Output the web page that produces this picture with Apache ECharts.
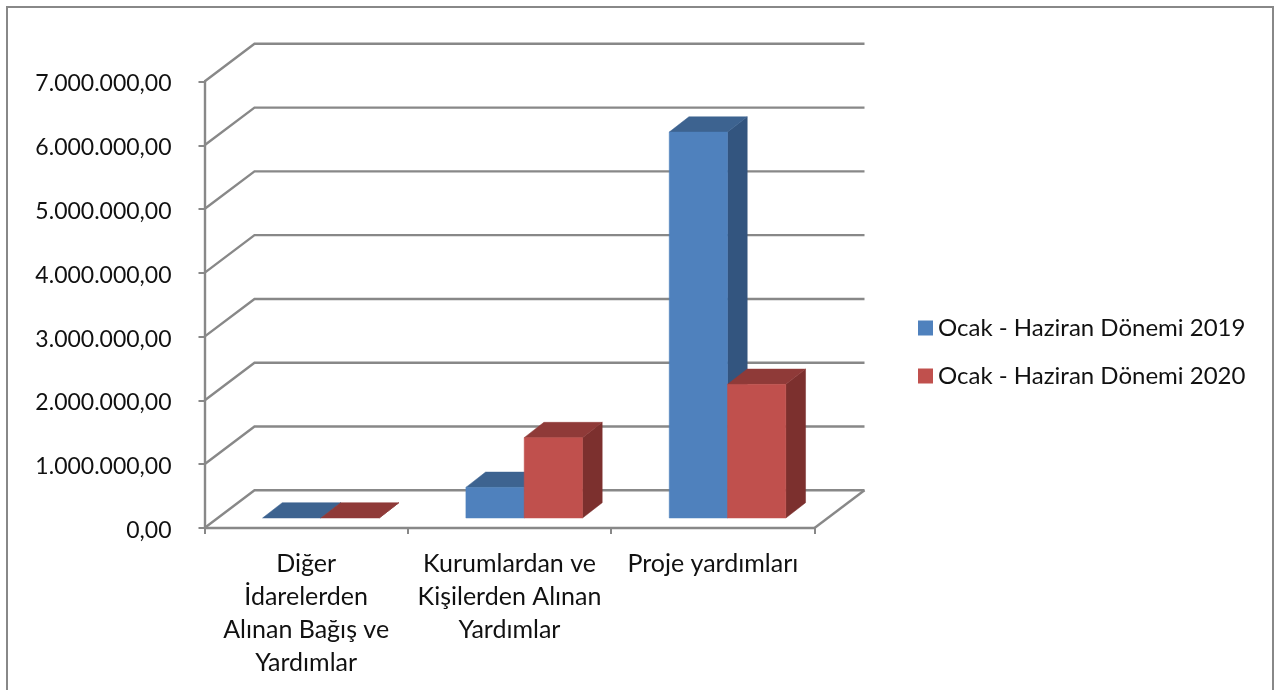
<!DOCTYPE html>
<html>
<head>
<meta charset="utf-8">
<script src="https://cdn.jsdelivr.net/npm/echarts@6/dist/echarts.min.js"></script>
<style>
  html, body { margin: 0; padding: 0; background: #fff; }
  #chart { width: 1288px; height: 690px; }
</style>
</head>
<body>
<div id="chart"></div>
<script>
const categories = ['Diğer\nİdarelerden\nAlınan Bağış ve\nYardımlar', 'Kurumlardan ve\nKişilerden Alınan\nYardımlar', 'Proje yardımları']
const series2019 = [0, 480000, 6050000]
const series2020 = [0, 1260000, 2095000]
const yTicks = [0, 1000000, 2000000, 3000000, 4000000, 5000000, 6000000, 7000000]

const FONT = 'Lato'
const AXIS_COLOR = '#888888'
const TEXT_COLOR = '#111111'

// fake 3d: wall depth, bar offset from the front of the floor, bar depth
const WALL_DX = 50, WALL_DY = -37.7
const BAR_DX = 14.7, BAR_DY = -10
const DEPTH_DX = 19.7, DEPTH_DY = -15.3
const BAR_W = 58.3

const formatTick = (v) => {
  const s = String(v).replace(/\B(?=(\d{3})+$)/g, '.')
  return s + ',00'
}

const poly = (points, fill) => ({
  type: 'polygon',
  shape: { points },
  style: { fill, stroke: fill, lineWidth: 0.5 },
})

// draws one bar, dir is -1 for the left bar of a pair and 0 for the right one
const barRenderer = (dir, front, top, side) => (params, api) => {
  const p = api.coord([api.value(0), api.value(1)])
  const base = api.coord([api.value(0), 0])
  const x0 = p[0] + BAR_DX + dir * BAR_W
  const x1 = x0 + BAR_W
  const yTop = p[1] + BAR_DY
  const yBase = base[1] + BAR_DY
  const children = [
    poly([[x1, yBase], [x1 + DEPTH_DX, yBase + DEPTH_DY], [x1 + DEPTH_DX, yTop + DEPTH_DY], [x1, yTop]], side),
    poly([[x0, yTop], [x0 + DEPTH_DX, yTop + DEPTH_DY], [x1 + DEPTH_DX, yTop + DEPTH_DY], [x1, yTop]], top),
  ]
  if (yBase - yTop > 0.5) {
    children.push(poly([[x0, yBase], [x1, yBase], [x1, yTop], [x0, yTop]], front))
  }
  return { type: 'group', children }
}

const wallRenderer = (params, api) => {
  const { x, width } = params.coordSys
  const y = api.coord([0, api.value(0)])[1]
  const lineStyle = { stroke: AXIS_COLOR, lineWidth: 2.4, fill: null }
  const children = [{
    type: 'polyline',
    shape: { points: [[x, y], [x + WALL_DX, y + WALL_DY], [x + width + WALL_DX, y + WALL_DY]] },
    style: lineStyle,
  }]
  if (api.value(0) === 0) {
    children.push({
      type: 'line',
      shape: { x1: x + width, y1: y, x2: x + width + WALL_DX, y2: y + WALL_DY },
      style: lineStyle,
    })
  }
  return { type: 'group', children }
}

const chart = echarts.init(document.getElementById('chart'))
chart.setOption({
  animation: false,
  textStyle: { fontFamily: FONT },
  graphic: [{
    type: 'rect',
    shape: { x: 7, y: 7, width: 1266, height: 700 },
    style: { fill: 'none', stroke: AXIS_COLOR, lineWidth: 2 },
    silent: true,
    z: -1,
  }],
  grid: { left: 204.5, top: 81.5, width: 610, height: 446.5 },
  xAxis: {
    type: 'category',
    data: categories,
    axisLine: { lineStyle: { color: AXIS_COLOR, width: 2.4 } },
    axisTick: { show: true, length: 6, lineStyle: { color: AXIS_COLOR, width: 2 } },
    splitLine: { show: false },
    axisLabel: {
      interval: 0, margin: 19, color: TEXT_COLOR, fontSize: 25, lineHeight: 33, fontFamily: FONT, align: 'center',
    },
  },
  yAxis: {
    type: 'value',
    min: 0,
    max: 7000000,
    interval: 1000000,
    axisLine: { show: true, lineStyle: { color: AXIS_COLOR, width: 2.4 } },
    axisTick: { show: true, length: 6, lineStyle: { color: AXIS_COLOR, width: 2 } },
    splitLine: { show: false },
    axisLabel: {
      margin: 33, color: TEXT_COLOR, fontSize: 23, fontFamily: FONT, verticalAlign: 'top', lineHeight: 5, formatter: formatTick,
    },
  },
  legend: {
    data: ['Ocak - Haziran Dönemi 2019', 'Ocak - Haziran Dönemi 2020'],
    orient: 'vertical',
    left: 913,
    top: 311,
    itemWidth: 15,
    itemHeight: 15,
    itemGap: 24,
    icon: 'rect',
    selectedMode: false,
    textStyle: { color: TEXT_COLOR, fontSize: 24, fontFamily: FONT },
  },
  series: [
    {
      type: 'custom',
      silent: true,
      clip: false,
      z: 1,
      data: yTicks.map(v => [v]),
      encode: { y: 0 },
      renderItem: wallRenderer,
    },
    {
      type: 'custom',
      name: 'Ocak - Haziran Dönemi 2019',
      clip: false,
      z: 3,
      itemStyle: { color: '#4F81BD' },
      data: series2019.map((v, i) => [i, v]),
      encode: { x: 0, y: 1 },
      renderItem: barRenderer(-1, '#4F81BD', '#3D6390', '#33557F'),
    },
    {
      type: 'custom',
      name: 'Ocak - Haziran Dönemi 2020',
      clip: false,
      z: 4,
      itemStyle: { color: '#C0504D' },
      data: series2020.map((v, i) => [i, v]),
      encode: { x: 0, y: 1 },
      renderItem: barRenderer(0, '#C0504D', '#8F3A38', '#7C302E'),
    },
  ],
})
</script>
</body>
</html>
